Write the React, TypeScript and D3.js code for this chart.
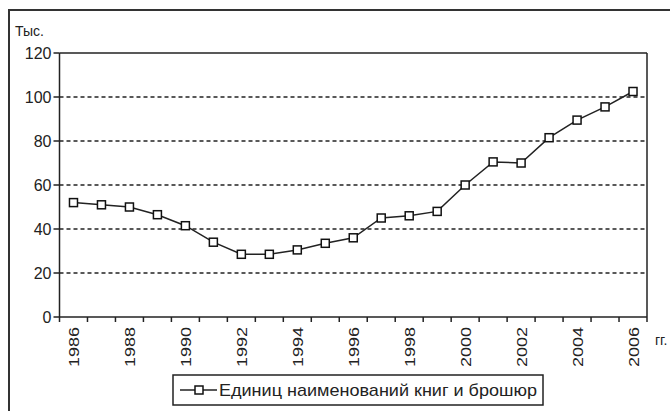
import React from "react";
import * as d3 from "d3";

const years: string[] = ["1986","1987","1988","1989","1990","1991","1992","1993","1994","1995","1996","1997","1998","1999","2000","2001","2002","2003","2004","2005","2006"];
const values: number[] = [52,51,50,46.5,41.5,34,28.5,28.5,30.5,33.5,36,45,46,48,60,70.5,70,81.5,89.5,95.5,102.5];
const yTicks: number[] = [0,20,40,60,80,100,120];
const yUnit = "Тыс.";
const xUnit = "гг.";
const seriesName = "Единиц наименований книг и брошюр";

export default function App() {
  const W = 670, H = 411;
  const left = 59.5, right = 647, top = 53, bottom = 317;
  const x = d3.scaleBand<string>().domain(years).range([left, right]);
  const y = d3.scaleLinear().domain([0, 120]).range([bottom, top]);
  const line = d3.line<number>().x((_, i) => (x(years[i]) as number) + x.bandwidth() / 2).y(d => y(d));
  const font = "'Liberation Sans', Arial, sans-serif";
  const boundaries = years.map(yr => x(yr) as number).concat([right]);
  const ms = 8;
  return (
    <svg width={W} height={H} style={{ position: "absolute", left: 0, top: 0, background: "#fff" }} fontFamily={font}>
      <rect x={9} y={10} width={680} height={420} fill="#fff" stroke="#333" strokeWidth={2} />
      <text x={15} y={36} fontSize={14} fill="#222">{yUnit}</text>
      {yTicks.filter(t => t > 0 && t < 120).map(t => (
        <line key={"g" + t} x1={left} x2={right} y1={y(t)} y2={y(t)} stroke="#222" strokeWidth={1.5} strokeDasharray="4,3" />
      ))}
      <line x1={left} x2={right} y1={top} y2={top} stroke="#222" strokeWidth={1.5} />
      <line x1={right} x2={right} y1={top} y2={bottom} stroke="#222" strokeWidth={1.5} />
      <line x1={left} x2={left} y1={top} y2={bottom} stroke="#222" strokeWidth={1.5} />
      <line x1={left} x2={right} y1={bottom} y2={bottom} stroke="#222" strokeWidth={1.5} />
      {yTicks.map(t => (
        <g key={"y" + t}>
          <line x1={left - 6} x2={left} y1={y(t)} y2={y(t)} stroke="#222" strokeWidth={1.5} />
          <text x={left - 8} y={y(t)} textAnchor="end" dominantBaseline="central" fontSize={16} fill="#222">{t}</text>
        </g>
      ))}
      {boundaries.map((b, i) => (
        <line key={"xt" + i} x1={b} x2={b} y1={bottom} y2={bottom + 5} stroke="#222" strokeWidth={1.5} />
      ))}
      {years.filter((_, i) => i % 2 === 0).map(yr => {
        const cx = (x(yr) as number) + x.bandwidth() / 2;
        return (
          <text key={"xl" + yr} transform={`translate(${cx},${bottom + 10}) rotate(-90)`} textAnchor="end" dominantBaseline="central" fontSize={15.5} fill="#222" textLength={40} lengthAdjust="spacingAndGlyphs">{yr}</text>
        );
      })}
      <text x={655} y={340} dominantBaseline="central" fontSize={14} fill="#222">{xUnit}</text>
      <path d={line(values) || ""} fill="none" stroke="#222" strokeWidth={1.5} />
      {values.map((v, i) => (
        <rect key={"m" + i} x={(x(years[i]) as number) + x.bandwidth() / 2 - ms / 2} y={y(v) - ms / 2} width={ms} height={ms} fill="#fff" stroke="#111" strokeWidth={1.5} />
      ))}
      <rect x={173} y={375} width={370} height={30} fill="#fff" stroke="#222" strokeWidth={1.5} />
      <line x1={180} x2={217} y1={390} y2={390} stroke="#222" strokeWidth={1.5} />
      <rect x={199 - ms / 2} y={390 - ms / 2} width={ms} height={ms} fill="#fff" stroke="#111" strokeWidth={1.5} />
      <text x={219} y={390} dominantBaseline="central" fontSize={17} fill="#222" textLength={318} lengthAdjust="spacingAndGlyphs">{seriesName}</text>
    </svg>
  );
}
